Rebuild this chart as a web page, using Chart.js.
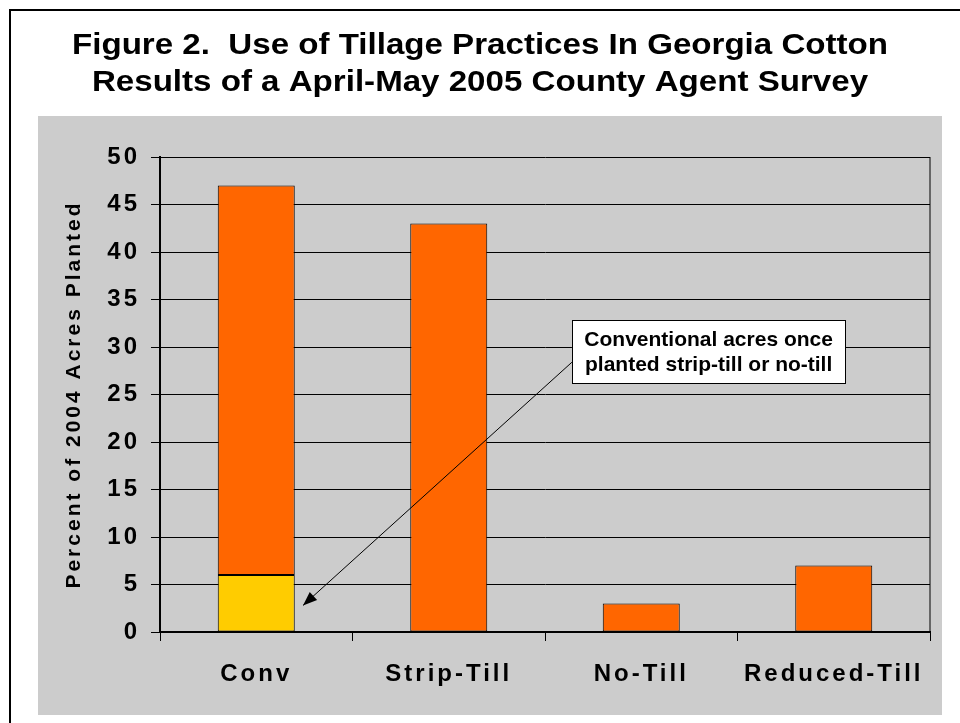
<!DOCTYPE html>
<html>
<head>
<meta charset="utf-8">
<script src="https://cdn.jsdelivr.net/npm/chart.js@4.4.1/dist/chart.umd.min.js"></script>
<style>
  html, body { margin: 0; padding: 0; background: #ffffff; }
  #wrap { width: 960px; height: 723px; position: relative; }
</style>
</head>
<body>
<div id="wrap"><canvas id="chart"></canvas></div>
<script>
// data
const categories = ["Conv", "Strip-Till", "No-Till", "Reduced-Till"];
const switchedToConv = [6, null, null, null];   // yellow part of the Conv bar
const plantedPct = [41, 43, 3, 7];               // orange parts
const yMin = 0, yMax = 50, yStep = 5;

const titleLines = [
    "Figure 2.  Use of Tillage Practices In Georgia Cotton",
    "Results of a April-May 2005 County Agent Survey",
];
const yAxisTitle = "Percent of 2004 Acres Planted";
const noteLines = ["Conventional acres once", "planted strip-till or no-till"];

const FONT = '"Liberation Sans", Arial, sans-serif';

// frame, gray panel, title and the callout box
const decor = {
    id: "decor",
    beforeDraw(chart) {
        const ctx = chart.ctx;
        ctx.save();
        ctx.fillStyle = "#ffffff";
        ctx.fillRect(0, 0, chart.width, chart.height);
        ctx.fillStyle = "#cccccc";
        ctx.fillRect(38, 116, 904, 599);
        ctx.strokeStyle = "#000000";
        ctx.lineWidth = 2;
        ctx.beginPath();
        ctx.moveTo(10, chart.height);
        ctx.lineTo(10, 10);
        ctx.lineTo(chart.width, 10);
        ctx.stroke();
        ctx.restore();
        // axis text in the original is spread out
        ctx.letterSpacing = "3px";
    },
    afterDraw(chart) {
        const ctx = chart.ctx;
        const { x, y } = chart.scales;
        const area = chart.chartArea;
        ctx.save();
        ctx.letterSpacing = "0px";

        // right edge of plot area
        ctx.strokeStyle = "#000000";
        ctx.lineWidth = 1;
        ctx.beginPath();
        ctx.moveTo(area.right, area.top);
        ctx.lineTo(area.right, area.bottom);
        ctx.stroke();

        // title
        ctx.fillStyle = "#000000";
        ctx.font = "bold 30px " + FONT;
        ctx.textAlign = "center";
        ctx.textBaseline = "alphabetic";
        const sx = 816 / ctx.measureText(titleLines[0]).width;
        [54, 91].forEach((base, i) => {
            ctx.save();
            ctx.translate(480, base);
            ctx.scale(sx, 1);
            ctx.fillText(titleLines[i], 0, 0);
            ctx.restore();
        });

        // callout box, placed in data units
        const bx1 = x.getPixelForValue(1.64), bx2 = x.getPixelForValue(3.06);
        const by1 = y.getPixelForValue(32.8), by2 = y.getPixelForValue(26.2);
        const ax1 = bx1, ay1 = y.getPixelForValue(28.4);
        const ax2 = x.getPixelForValue(0.243), ay2 = y.getPixelForValue(2.8);

        ctx.strokeStyle = "#000000";
        ctx.lineWidth = 1;
        ctx.beginPath();
        ctx.moveTo(ax1, ay1);
        ctx.lineTo(ax2, ay2);
        ctx.stroke();
        const ang = Math.atan2(ay2 - ay1, ax2 - ax1);
        const len = 14, half = 5.5;
        ctx.fillStyle = "#000000";
        ctx.beginPath();
        ctx.moveTo(ax2, ay2);
        ctx.lineTo(ax2 - len * Math.cos(ang) + half * Math.sin(ang), ay2 - len * Math.sin(ang) - half * Math.cos(ang));
        ctx.lineTo(ax2 - len * Math.cos(ang) - half * Math.sin(ang), ay2 - len * Math.sin(ang) + half * Math.cos(ang));
        ctx.closePath();
        ctx.fill();

        ctx.fillStyle = "#ffffff";
        ctx.fillRect(bx1, by1, bx2 - bx1, by2 - by1);
        ctx.strokeRect(Math.round(bx1) + 0.5, Math.round(by1) + 0.5, Math.round(bx2 - bx1), Math.round(by2 - by1));
        ctx.fillStyle = "#000000";
        ctx.font = "bold 21px " + FONT;
        ctx.textAlign = "center";
        ctx.textBaseline = "middle";
        const cx = (bx1 + bx2) / 2;
        ctx.fillText(noteLines[0], cx, by1 + 20);
        ctx.fillText(noteLines[1], cx, by1 + 45);

        ctx.restore();
    },
};

new Chart(document.getElementById("chart").getContext("2d"), {
    type: "bar",
    data: {
        labels: categories,
        datasets: [
            {
                label: "Conventional acres once planted strip-till or no-till",
                data: switchedToConv,
                backgroundColor: "#ffcc00",
                borderColor: "#000000",
                borderWidth: 1,
                borderSkipped: false,
            },
            {
                label: "Percent of 2004 acres",
                data: plantedPct,
                backgroundColor: "#ff6600",
                borderColor: "#000000",
                borderWidth: 1,
                borderSkipped: false,
            },
        ],
    },
    options: {
        responsive: true,
        maintainAspectRatio: false,
        animation: false,
        events: [],
        barPercentage: 0.4,
        categoryPercentage: 1,
        layout: { padding: { left: 38, top: 157, right: 30, bottom: 0 } },
        plugins: {
            legend: { display: false },
            title: { display: false },
            tooltip: { enabled: false },
        },
        scales: {
            x: {
                stacked: true,
                afterFit: (s) => { s.height = 91; },
                grid: { drawOnChartArea: false, drawTicks: true, tickLength: 9, color: "#000000", lineWidth: 1 },
                border: { display: true, color: "#000000", width: 2 },
                ticks: { color: "#000000", padding: 19, font: { family: FONT, size: 24, weight: "bold" } },
            },
            y: {
                stacked: true,
                min: yMin,
                max: yMax,
                afterFit: (s) => { s.width = 122; },
                grid: { color: "#000000", lineWidth: 1, tickLength: 9 },
                border: { display: true, color: "#000000", width: 2 },
                ticks: { stepSize: yStep, color: "#000000", padding: 11, font: { family: FONT, size: 24, weight: "bold" } },
                title: {
                    display: true,
                    text: yAxisTitle,
                    color: "#000000",
                    padding: { top: 24, bottom: 0 },
                    font: { family: FONT, size: 21, weight: "bold" },
                },
            },
        },
    },
    plugins: [decor],
});
</script>
</body>
</html>
